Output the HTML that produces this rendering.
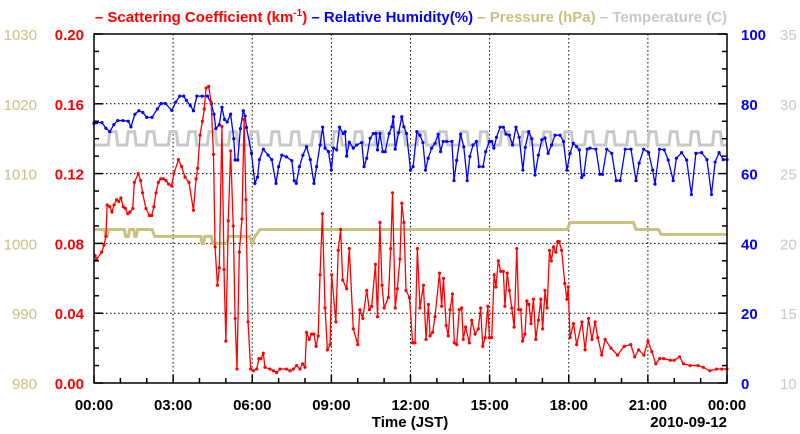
<!DOCTYPE html>
<html><head><meta charset="utf-8"><style>
body{margin:0;background:#fff;}
svg{display:block;font-family:"Liberation Sans",sans-serif;}
</style></head><body>
<svg id="chart" width="800" height="434" viewBox="0 0 800 434" xmlns="http://www.w3.org/2000/svg">
<text x="411" y="22" text-anchor="middle" font-size="15" font-weight="bold"><tspan fill="#ff0000">– Scattering Coefficient (km</tspan><tspan fill="#ff0000" font-size="10" dy="-6">-1</tspan><tspan fill="#ff0000" dy="6">) </tspan><tspan fill="#0000ff">– Relative Humidity(%) </tspan><tspan fill="#c9c17f">– Pressure (hPa) </tspan><tspan fill="#c8c8c8">– Temperature (C)</tspan></text>
<g id="grid"></g>
<g id="series"></g>
<g id="axes"></g>
<text x="410" y="427" text-anchor="middle" font-size="15" font-weight="bold">Time (JST)</text>
<text x="727" y="427" text-anchor="end" font-size="15" font-weight="bold">2010-09-12</text>
</svg>
<script>
const xTickLabels=["00:00","03:00","06:00","09:00","12:00","15:00","18:00","21:00","00:00"];
const scatTicks=["0.00","0.04","0.08","0.12","0.16","0.20"];
const presTicks=["980","990","1000","1010","1020","1030"];
const rhTicks=["0","20","40","60","80","100"];
const tempTicks=["10","15","20","25","30","35"];

const sTime=[0.04,0.1,0.29,0.38,0.45,0.5,0.6,0.68,0.76,0.86,0.94,1.02,1.11,1.19,1.28,1.36,1.47,1.53,1.68,1.77,1.84,1.97,2.1,2.19,2.27,2.35,2.44,2.53,2.63,2.73,2.83,2.94,3.03,3.2,3.32,3.45,3.6,3.77,3.87,3.93,4.02,4.11,4.18,4.25,4.35,4.44,4.53,4.59,4.68,4.75,4.85,4.93,5.0,5.09,5.18,5.28,5.35,5.42,5.51,5.61,5.69,5.76,5.84,5.94,6.04,6.17,6.25,6.33,6.42,6.48,6.67,6.8,6.92,7.05,7.3,7.43,7.56,7.68,7.81,7.91,8.0,8.06,8.16,8.25,8.34,8.42,8.5,8.57,8.66,8.76,8.85,8.95,9.01,9.17,9.26,9.35,9.43,9.58,9.68,9.83,10.0,10.08,10.19,10.34,10.44,10.53,10.67,10.75,10.84,10.92,11.0,11.16,11.25,11.32,11.42,11.5,11.6,11.67,11.75,11.83,11.96,12.08,12.17,12.26,12.36,12.49,12.59,12.68,12.74,12.84,12.93,13.1,13.18,13.25,13.35,13.43,13.5,13.59,13.66,13.75,13.85,13.94,14.0,14.09,14.23,14.32,14.45,14.57,14.66,14.74,14.83,14.93,14.99,15.08,15.17,15.24,15.33,15.42,15.52,15.58,15.67,15.75,15.84,15.93,16.03,16.1,16.18,16.25,16.34,16.41,16.49,16.57,16.66,16.75,16.85,16.94,17.01,17.1,17.18,17.27,17.34,17.42,17.51,17.58,17.64,17.73,17.85,17.93,17.98,18.05,18.18,18.3,18.5,18.62,18.75,18.88,19.0,19.1,19.25,19.38,19.6,19.85,20.1,20.35,20.5,20.65,20.85,21.0,21.15,21.3,21.45,21.6,21.85,22.0,22.2,22.35,22.6,22.9,23.1,23.35,23.6,23.8,24.0];
const sVal=[.073,.071,.075,.079,.084,.102,.101,.098,.102,.105,.104,.106,.101,.100,.097,.098,.100,.115,.120,.116,.109,.100,.096,.096,.101,.109,.115,.117,.117,.116,.114,.113,.120,.128,.124,.118,.115,.099,.117,.123,.142,.150,.157,.169,.170,.161,.131,.078,.056,.066,.147,.065,.024,.093,.133,.090,.037,.008,.075,.094,.151,.105,.035,.008,.007,.008,.014,.014,.017,.009,.008,.007,.006,.008,.008,.007,.008,.010,.008,.011,.009,.029,.025,.028,.028,.021,.027,.062,.097,.043,.019,.022,.062,.035,.076,.088,.059,.054,.077,.031,.022,.042,.037,.053,.042,.044,.068,.038,.092,.056,.043,.049,.077,.109,.043,.054,.071,.103,.092,.053,.049,.023,.023,.077,.043,.056,.025,.045,.027,.029,.038,.063,.044,.060,.033,.027,.042,.051,.023,.022,.042,.043,.025,.032,.023,.036,.028,.031,.043,.021,.026,.044,.026,.026,.062,.055,.070,.064,.064,.044,.063,.053,.043,.032,.077,.042,.042,.024,.028,.047,.045,.034,.048,.025,.036,.048,.031,.053,.043,.076,.070,.078,.075,.081,.081,.076,.057,.048,.055,.026,.034,.022,.035,.019,.037,.025,.035,.026,.016,.025,.020,.016,.021,.022,.015,.019,.016,.024,.018,.011,.014,.014,.013,.013,.015,.011,.010,.010,.009,.007,.008,.008,.008];

const rTime=[0.0,0.1,0.3,0.45,0.6,0.75,0.9,1.1,1.3,1.4,1.55,1.7,1.85,2.0,2.2,2.4,2.55,2.7,2.95,3.1,3.25,3.4,3.5,3.65,3.77,3.9,4.1,4.3,4.45,4.55,4.62,4.75,4.85,4.95,5.05,5.18,5.3,5.35,5.45,5.55,5.66,5.73,5.78,5.97,6.1,6.2,6.27,6.42,6.6,6.74,6.9,7.0,7.12,7.3,7.5,7.59,7.67,7.79,7.92,8.06,8.2,8.34,8.44,8.57,8.67,8.76,8.89,9.0,9.08,9.2,9.31,9.45,9.52,9.58,9.68,9.83,9.96,10.15,10.24,10.34,10.47,10.59,10.69,10.75,10.84,10.95,11.04,11.19,11.29,11.35,11.42,11.55,11.67,11.75,11.85,12.0,12.1,12.24,12.36,12.47,12.57,12.67,12.8,12.93,13.05,13.14,13.24,13.37,13.57,13.65,13.75,13.9,14.02,14.15,14.25,14.37,14.5,14.6,14.75,14.85,14.99,15.08,15.16,15.26,15.4,15.52,15.62,15.75,15.87,16.0,16.12,16.26,16.35,16.48,16.6,16.72,16.85,16.98,17.1,17.22,17.35,17.48,17.67,17.8,17.93,18.05,18.17,18.3,18.4,18.49,18.57,18.7,18.8,19.03,19.18,19.28,19.44,19.63,19.8,19.95,20.14,20.36,20.55,20.67,20.84,21.03,21.18,21.27,21.44,21.62,21.77,21.96,22.08,22.28,22.47,22.65,22.82,23.04,23.24,23.41,23.55,23.7,23.86,24.0];
const rVal=[74.4,74.6,74.6,73,72,74,75.2,75.2,75.0,73.4,77,78,77.5,76.1,76.1,78.5,80.1,80.1,78.1,80.5,82.2,82.2,81,79.5,78,82.2,82.2,82.2,80,77,72.9,74,79,75.5,74.8,77,70,63.9,63.9,72.9,78,76.5,73.2,65.8,57.2,59,64,67,65.3,64,57.2,62,65.3,64.8,63.7,58,57.2,62,65.3,67.7,64,57.2,62,68.2,73.3,67.3,66.3,61,67.3,66.8,73.3,71.5,72,65,69,67.3,68.2,68.9,62,64.4,70.1,71.5,71.5,66.8,71.5,66.3,66.3,71.5,73.4,76.3,67,71.7,76.3,73.4,71.5,61,62,72,71,68.9,61,64.4,67.3,68.7,71.3,66.3,69.2,69.2,69.2,58,63.8,71.3,67.7,58,64.9,68.2,69.2,62,62,66.3,69.2,69.2,67.3,70.4,73.3,73.3,71.3,71,68.2,73.3,70.4,61,67.5,72,70,59.6,65.3,69.7,70.2,65.8,68.2,71,71,69.2,61,65.8,68.7,67.7,66.8,58.9,59.6,67,67.3,67,59.8,59.8,67,65.8,58,58,67,67,58,63,67,66,61,57,67,66.8,63.9,58,64.4,66,63.9,54,65.8,66,64,54,63.3,66,64,64];

const pTime=[0,0.4,0.45,0.5,0.55,1.15,1.2,1.3,1.35,1.5,1.55,1.6,1.65,2.2,2.3,4.05,4.1,4.15,4.2,4.45,4.5,5.05,5.1,5.9,6.0,6.1,6.3,17.95,18.05,20.45,20.55,21.4,21.5,24];
const pVal=[1002,1002,1001,1001,1002,1002,1001,1001,1002,1002,1001,1001,1002,1002,1001,1001,1000,1000,1001,1001,1000,1000,1001,1001,1000,1001,1002,1002,1003,1003,1002,1002,1001.3,1001.3];

const tPulseStart=[0.54,1.24,1.97,2.82,3.54,4.3,5.1,5.9,6.7,7.45,8.25,9.05,9.85,10.65,11.45,12.25,13.05,13.85,14.6,15.4,16.2,17.0,17.8,18.6,19.4,20.2,21.0,21.8,22.6,23.45];
const tBase=27.05, tHigh=28.0;

const L=94,R=727,T=34,B=383;
const NS="http://www.w3.org/2000/svg";
const xs=h=>L+(R-L)*h/24;
const yS=v=>B-(B-T)*v/0.2;
const yR=v=>B-(B-T)*v/100;
const yP=v=>B-(B-T)*(v-980)/50;
const yT=v=>B-(B-T)*(v-10)/25;
function mk(tag,attrs,parent){const e=document.createElementNS(NS,tag);for(const k in attrs)e.setAttribute(k,attrs[k]);parent.appendChild(e);return e;}
const grid=document.getElementById('grid'),ser=document.getElementById('series'),axes=document.getElementById('axes');

for(let i=1;i<8;i++){const g=mk('line',{x1:xs(i*3),x2:xs(i*3),y1:T,y2:B,stroke:'#000','stroke-width':1,'stroke-dasharray':'1.5,2.5'},grid);

}
for(let i=1;i<5;i++){const g=mk('line',{x1:L,x2:R,y1:yS(i*0.04),y2:yS(i*0.04),stroke:'#000','stroke-width':1,'stroke-dasharray':'1.5,2.5'},grid);

}

// temperature
let tp=[[0,tBase]];
tPulseStart.forEach(a=>{tp.push([a,tBase],[a+0.06,tHigh],[a+0.3,tHigh],[a+0.36,tBase]);});
tp.push([24,tBase]);
const tl=mk('polyline',{points:tp.map(p=>xs(p[0])+','+yT(p[1])).join(' '),fill:'none',stroke:'#c8c8c8','stroke-width':3},ser);


// pressure
const pl=mk('polyline',{points:pTime.map((t,i)=>xs(t)+','+yP(pVal[i])).join(' '),fill:'none',stroke:'#c9c17f','stroke-width':3},ser);


// RH
const rl=mk('polyline',{points:rTime.map((t,i)=>xs(t)+','+yR(rVal[i])).join(' '),fill:'none',stroke:'#0000ff','stroke-width':1.3},ser);


rTime.forEach((t,i)=>{const c=mk('circle',{cx:xs(t),cy:yR(rVal[i]),r:1.6,fill:'#0000ff'},ser);

});
// scattering
const sl=mk('polyline',{points:sTime.map((t,i)=>xs(t)+','+yS(sVal[i])).join(' '),fill:'none',stroke:'#ff0000','stroke-width':1.3},ser);


sTime.forEach((t,i)=>{const c=mk('circle',{cx:xs(t),cy:yS(sVal[i]),r:1.6,fill:'#ff0000'},ser);

});

// frame
const fr=mk('rect',{x:L,y:T,width:R-L,height:B-T,fill:'none',stroke:'#000','stroke-width':1.5},axes);


// x ticks
for(let h=0;h<=24;h++){const len=h%3==0?8:5;const t=mk('line',{x1:xs(h),x2:xs(h),y1:B,y2:B-len,stroke:'#000','stroke-width':1.5},axes);

}
xTickLabels.forEach((s,i)=>{const t=mk('text',{x:xs(i*3),y:410,'text-anchor':'middle','font-size':15,'font-weight':'bold',fill:'#000'},axes);t.textContent=s;

});
// y ticks
for(let i=0;i<=20;i++){const y=yS(i*0.01);const len=i%4==0?9:5;
const a=mk('line',{x1:L,x2:L+len,y1:y,y2:y,stroke:'#000','stroke-width':1.5},axes);


const b=mk('line',{x1:R,x2:R-len,y1:y,y2:y,stroke:'#000','stroke-width':1.5},axes);

}
scatTicks.forEach((s,i)=>{const t=mk('text',{x:84,y:yS(i*0.04)+6,'text-anchor':'end','font-size':15,'font-weight':'bold',fill:'#ff0000'},axes);t.textContent=s;

});
presTicks.forEach((s,i)=>{const t=mk('text',{x:37,y:yP(980+i*10)+6,'text-anchor':'end','font-size':15,fill:'#c9c17f'},axes);t.textContent=s;

});
rhTicks.forEach((s,i)=>{const t=mk('text',{x:741,y:yR(i*20)+6,'text-anchor':'start','font-size':15,'font-weight':'bold',fill:'#0000ff'},axes);t.textContent=s;

});
tempTicks.forEach((s,i)=>{const t=mk('text',{x:780,y:yT(10+i*5)+6,'text-anchor':'start','font-size':15,fill:'#c8c8c8'},axes);t.textContent=s;

});
</script>
</body></html>
